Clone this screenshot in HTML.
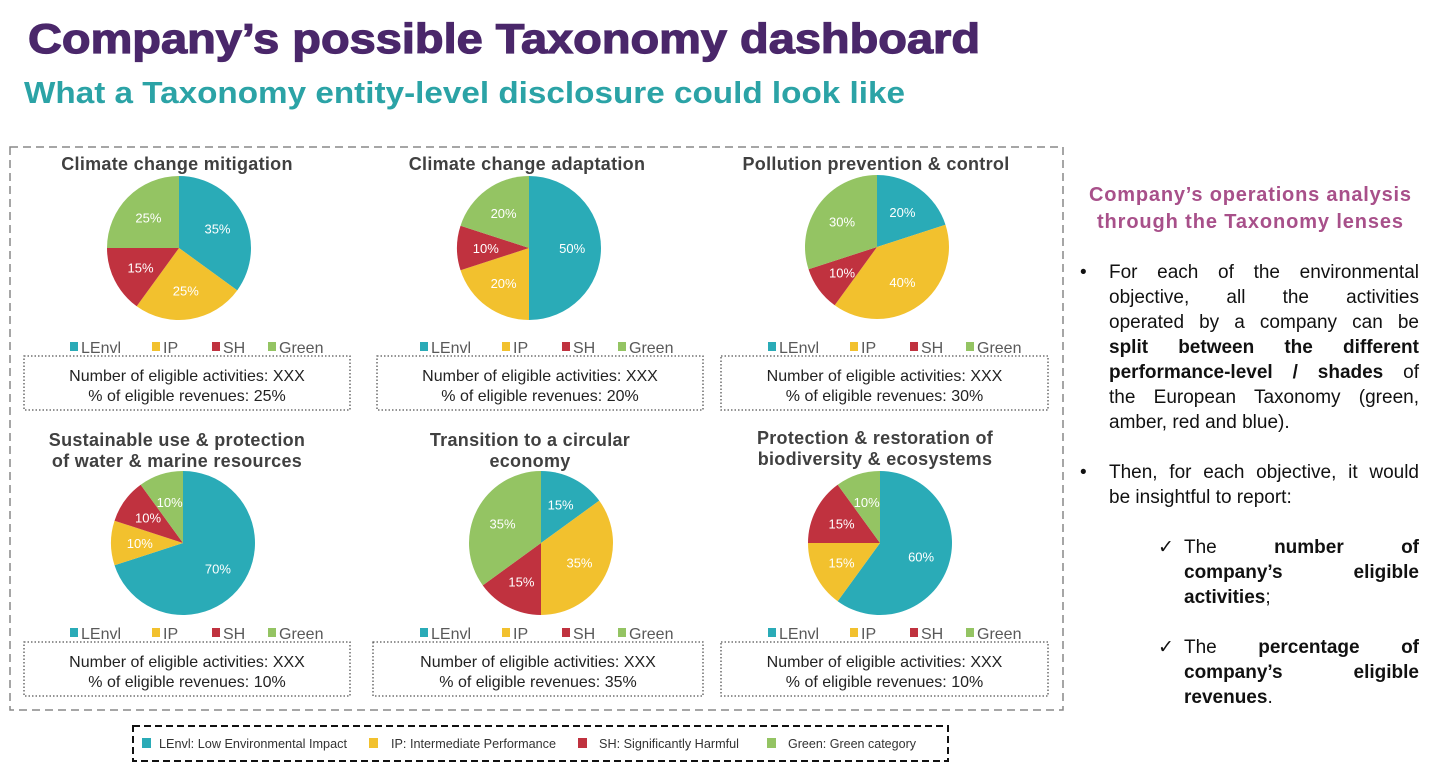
<!DOCTYPE html>
<html><head><meta charset="utf-8">
<style>
body{margin:0;width:1435px;height:763px;background:#fff;position:relative;overflow:hidden;font-family:"Liberation Sans",Arial,sans-serif;}
.r{position:absolute;font-size:19px;line-height:25px;height:25px;color:#111;white-space:nowrap}
.j{text-align:justify;text-align-last:justify}
</style></head><body>
<svg id="s" width="1435" height="763" style="position:absolute;left:0;top:0" font-family="Liberation Sans, Arial, sans-serif">
<text x="28" y="53" font-size="42" font-weight="bold" fill="#4a276a" textLength="952" lengthAdjust="spacingAndGlyphs" stroke="#4a276a" stroke-width="1.2">Company’s possible Taxonomy dashboard</text>
<text x="24" y="103" font-size="31" font-weight="bold" fill="#2ba3a6" textLength="881" lengthAdjust="spacingAndGlyphs">What a Taxonomy entity-level disclosure could look like</text>
<rect x="10" y="147" width="1053" height="563" fill="none" stroke="#888" stroke-width="1.5" stroke-dasharray="8,5"/>
<g id="charts"></g>
<text x="1250" y="201" font-size="20" font-weight="bold" fill="#a8508a" text-anchor="middle" textLength="322" lengthAdjust="spacing">Company’s operations analysis</text>
<text x="1250" y="228" font-size="20" font-weight="bold" fill="#a8508a" text-anchor="middle" textLength="306" lengthAdjust="spacing">through the Taxonomy lenses</text>
<rect x="133" y="726" width="815" height="35" fill="none" stroke="#111" stroke-width="2" stroke-dasharray="7,4"/>
<rect x="142" y="738" width="9" height="10" fill="#2aabb7"/><text x="159" y="748" font-size="13" fill="#333" textLength="188" lengthAdjust="spacingAndGlyphs">LEnvl: Low Environmental Impact</text>
<rect x="369" y="738" width="9" height="10" fill="#f2c12e"/><text x="391" y="748" font-size="13" fill="#333" textLength="165" lengthAdjust="spacingAndGlyphs">IP: Intermediate Performance</text>
<rect x="578" y="738" width="9" height="10" fill="#c0323f"/><text x="599" y="748" font-size="13" fill="#333" textLength="140" lengthAdjust="spacingAndGlyphs">SH: Significantly Harmful</text>
<rect x="767" y="738" width="9" height="10" fill="#94c463"/><text x="788" y="748" font-size="13" fill="#333" textLength="128" lengthAdjust="spacingAndGlyphs">Green: Green category</text>
</svg>
<div class="r" style="left:1080px;top:260px">•</div>
<div class="r j" style="left:1109px;top:260px;width:310px">For each of the environmental</div>
<div class="r j" style="left:1109px;top:285px;width:310px">objective, all the activities</div>
<div class="r j" style="left:1109px;top:310px;width:310px">operated by a company can be</div>
<div class="r j" style="left:1109px;top:335px;width:310px"><b>split between the different</b></div>
<div class="r j" style="left:1109px;top:360px;width:310px"><b>performance-level / shades</b> of</div>
<div class="r j" style="left:1109px;top:385px;width:310px">the European Taxonomy (green,</div>
<div class="r" style="left:1109px;top:410px">amber, red and blue).</div>
<div class="r" style="left:1080px;top:460px">•</div>
<div class="r j" style="left:1109px;top:460px;width:310px">Then, for each objective, it would</div>
<div class="r" style="left:1109px;top:485px">be insightful to report:</div>
<div class="r" style="left:1158px;top:535px">✓</div>
<div class="r j" style="left:1184px;top:535px;width:235px">The <b>number</b> <b>of</b></div>
<div class="r j" style="left:1184px;top:560px;width:235px"><b>company’s eligible</b></div>
<div class="r" style="left:1184px;top:585px"><b>activities</b>;</div>
<div class="r" style="left:1158px;top:635px">✓</div>
<div class="r j" style="left:1184px;top:635px;width:235px">The <b>percentage</b> <b>of</b></div>
<div class="r j" style="left:1184px;top:660px;width:235px"><b>company’s eligible</b></div>
<div class="r" style="left:1184px;top:685px"><b>revenues</b>.</div>
<script>
var C=["#2aabb7","#f2c12e","#c0323f","#94c463"];
var charts=[
{t:["Climate change mitigation"],tc:177,ty:[170],cx:179,cy:248,v:[35,25,15,25],lx:190,ly:353,bx:24,by:356,bw:326,rev:25},
{t:["Climate change adaptation"],tc:527,ty:[170],cx:529,cy:248,v:[50,20,10,20],lx:540,ly:353,bx:377,by:356,bw:326,rev:20},
{t:["Pollution prevention & control"],tc:876,ty:[170],cx:877,cy:247,v:[20,40,10,30],lx:888,ly:353,bx:721,by:356,bw:327,rev:30},
{t:["Sustainable use & protection","of water & marine resources"],tc:177,ty:[446,467],cx:183,cy:543,v:[70,10,10,10],lx:190,ly:639,bx:24,by:642,bw:326,rev:10},
{t:["Transition to a circular","economy"],tc:530,ty:[446,467],cx:541,cy:543,v:[15,35,15,35],lx:540,ly:639,bx:373,by:642,bw:330,rev:35},
{t:["Protection & restoration of","biodiversity & ecosystems"],tc:875,ty:[444,465],cx:880,cy:543,v:[60,15,15,10],lx:888,ly:639,bx:721,by:642,bw:327,rev:10}];
var h="",R=72;
charts.forEach(function(c){
 var tx=c.bx+c.bw/2;
 c.t.forEach(function(s,i){h+='<text x="'+c.tc+'" y="'+c.ty[i]+'" font-size="18" font-weight="bold" fill="#404040" text-anchor="middle" letter-spacing="0.3">'+s.replace(/&/g,'&amp;')+'</text>';});
 var a=0;
 c.v.forEach(function(v,i){
  var a0=a*3.6*Math.PI/180,a1=(a+v)*3.6*Math.PI/180;
  var x0=c.cx+R*Math.sin(a0),y0=c.cy-R*Math.cos(a0),x1=c.cx+R*Math.sin(a1),y1=c.cy-R*Math.cos(a1);
  h+='<path d="M'+c.cx+','+c.cy+'L'+x0+','+y0+'A'+R+','+R+' 0 '+(v>50?1:0)+' 1 '+x1+','+y1+'Z" fill="'+C[i]+'"/>';
  a+=v;
 });
 a=0;
 c.v.forEach(function(v,i){
  var m=(a+v/2)*3.6*Math.PI/180,d=R*0.6;
  h+='<text x="'+(c.cx+d*Math.sin(m))+'" y="'+(c.cy-d*Math.cos(m)+5)+'" font-size="13" fill="#fff" text-anchor="middle">'+v+'%</text>';
  a+=v;
 });
 var names=["LEnvl","IP","SH","Green"],offs=[-120,-38,22,78];
 names.forEach(function(n,i){var x=c.lx+offs[i];
  h+='<rect x="'+x+'" y="'+(c.ly-11)+'" width="8" height="9" fill="'+C[i]+'"/><text x="'+(x+11)+'" y="'+c.ly+'" font-size="16" fill="#595959">'+n+'</text>';});
 h+='<rect x="'+c.bx+'" y="'+c.by+'" width="'+c.bw+'" height="54" fill="none" stroke="#555" stroke-width="1.3" stroke-dasharray="1.5,2"/>';
 h+='<text x="'+tx+'" y="'+(c.by+25)+'" font-size="16" fill="#222" text-anchor="middle">Number of eligible activities: XXX</text>';
 h+='<text x="'+tx+'" y="'+(c.by+45)+'" font-size="16" fill="#222" text-anchor="middle">% of eligible revenues: '+c.rev+'%</text>';
});
document.getElementById("charts").innerHTML=h;
</script>
</body></html>
